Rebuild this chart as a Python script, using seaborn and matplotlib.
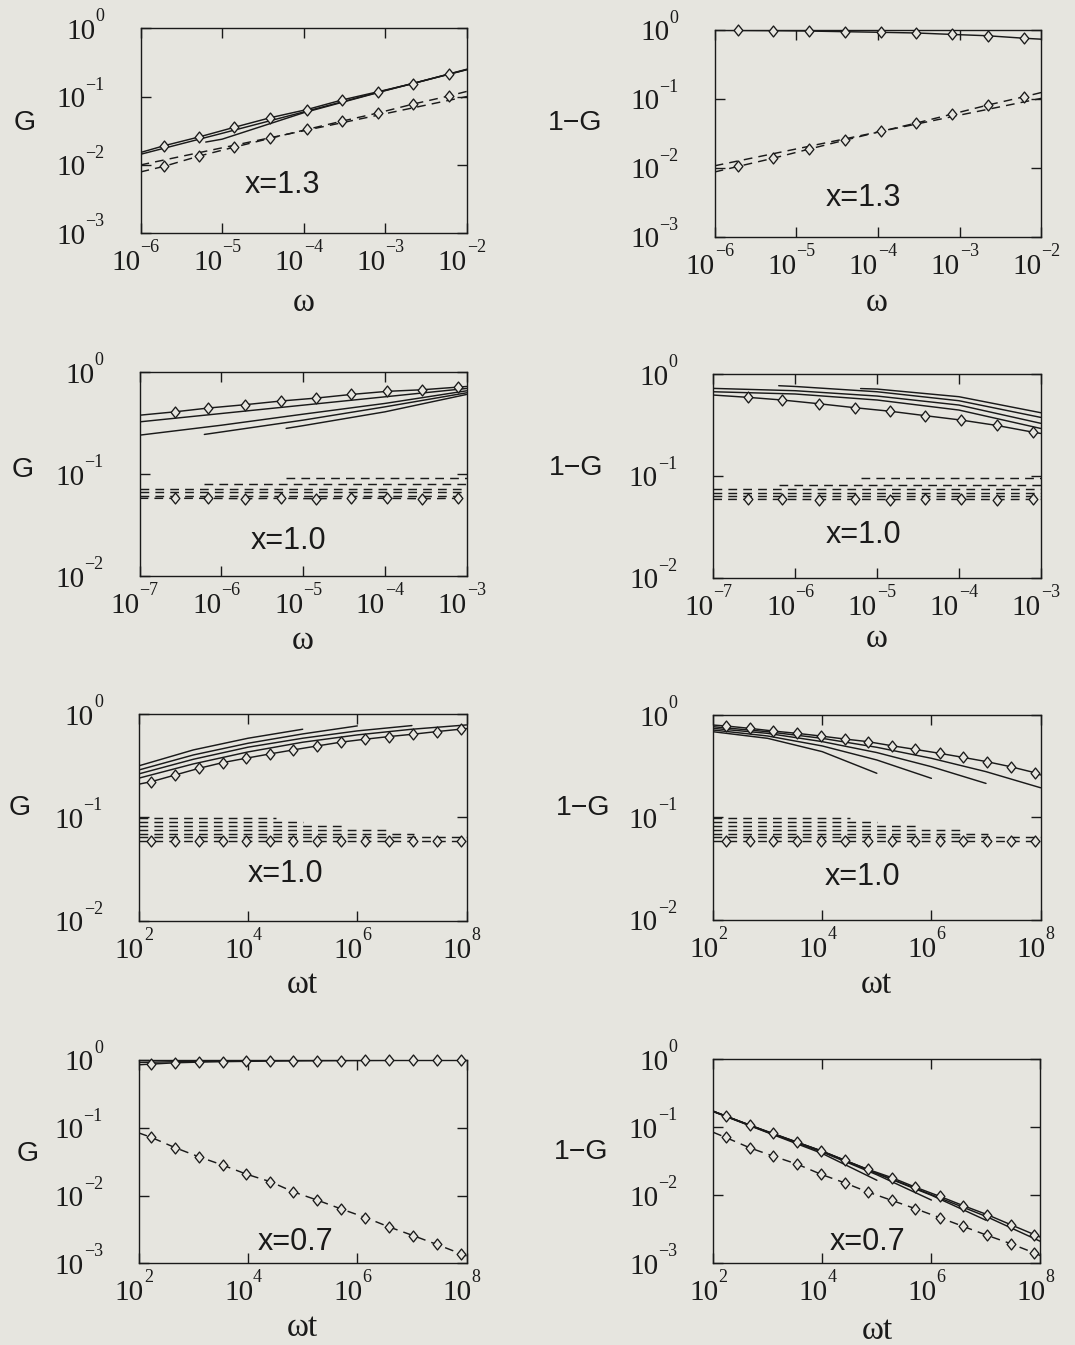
import matplotlib
matplotlib.use("Agg")
import matplotlib.pyplot as plt
from matplotlib.path import Path
from matplotlib.ticker import FixedLocator, NullFormatter, NullLocator
import seaborn as sns

# ---------------------------------------------------------------- data
# abscissae of the diamond markers
w_x13 = [1.95e-6, 5.25e-6, 1.41e-5, 3.89e-5, 1.10e-4, 2.95e-4, 8.13e-4, 2.19e-3, 6.03e-3]
w_x10 = [2.69e-7, 6.92e-7, 1.95e-6, 5.37e-6, 1.45e-5, 3.89e-5, 1.07e-4, 2.88e-4, 7.94e-4]
wt_x = [170, 468, 1260, 3470, 9330, 2.57e4, 6.76e4, 1.86e5, 5.01e5, 1.41e6,
        3.80e6, 1.05e7, 2.82e7, 7.76e7]

# decade grids for the unmarked curves
w_dec13 = [1e-6, 1e-5, 1e-4, 1e-3, 1e-2]
w_dec10 = [1e-7, 1e-6, 1e-5, 1e-4, 1e-3]
wt_dec = [1e2, 1e3, 1e4, 1e5, 1e6, 1e7, 1e8]

# x = 1.3, G(omega)
g13_solid = [0.0191, 0.0257, 0.0355, 0.0490, 0.0646, 0.0891, 0.1175, 0.155, 0.214]
g13_solid_ends = [0.0152, 0.251]
g13_solid_b = [0.0143, 0.0290, 0.0595, 0.123, 0.248]
g13_solid_c_w = [6.3e-6, 1e-5, 1e-4, 1e-3, 1e-2]
g13_solid_c = [0.0216, 0.0238, 0.0580, 0.122, 0.247]
g13_dash = [0.00955, 0.0135, 0.0182, 0.0245, 0.0331, 0.0437, 0.0575, 0.0776, 0.102]
g13_dash_ends = [0.0079, 0.119]
g13_dash_b = [0.0100, 0.0178, 0.0316, 0.0562, 0.100]

# x = 1.3, 1-G(omega)
q13_solid = [0.985, 0.978, 0.966, 0.945, 0.925, 0.905, 0.862, 0.825, 0.760]
q13_solid_ends = [0.99, 0.735]
q13_dash = [0.0105, 0.0138, 0.0186, 0.0251, 0.0339, 0.0447, 0.0603, 0.0813, 0.107]
q13_dash_ends = [0.0087, 0.124]
q13_dash_b = [0.0107, 0.0188, 0.0331, 0.0582, 0.102]

# x = 1.0, G(omega)
g10w_solid = [0.410, 0.447, 0.482, 0.524, 0.560, 0.608, 0.652, 0.676, 0.718]
g10w_solid_ends = [0.380, 0.728]
g10w_solid_b = [0.327, 0.395, 0.477, 0.576, 0.696]
g10w_solid_c = [0.242, 0.303, 0.389, 0.496, 0.660]
g10w_solid_d_w = [6.2e-7, 1e-6, 1e-5, 1e-4, 1e-3]
g10w_solid_d = [0.246, 0.260, 0.340, 0.459, 0.631]
g10w_solid_e_w = [6.2e-6, 1e-5, 1e-4, 1e-3]
g10w_solid_e = [0.282, 0.300, 0.410, 0.608]
g10w_dash = [0.058, 0.058, 0.0575, 0.058, 0.0575, 0.058, 0.058, 0.0575, 0.058]
g10w_dash_ends = [0.058, 0.058]
g10w_plateau = [0.0614, 0.0662, 0.0714, 0.0800, 0.0923]
g10w_plateau_from = [1e-7, 1e-7, 1e-7, 6.2e-7, 6.2e-6]

# x = 1.0, 1-G(omega)
q10w_solid = [0.590, 0.556, 0.511, 0.467, 0.431, 0.390, 0.353, 0.313, 0.269]
q10w_solid_ends = [0.622, 0.261]
q10w_solid_b = [0.670, 0.637, 0.556, 0.443, 0.292]
q10w_solid_c = [0.723, 0.686, 0.608, 0.496, 0.328]
q10w_solid_d_w = [6.3e-7, 1e-6, 1e-5, 1e-4, 1e-3]
q10w_solid_d = [0.768, 0.755, 0.670, 0.547, 0.375]
q10w_solid_e_w = [6.3e-6, 1e-5, 1e-4, 1e-3]
q10w_solid_e = [0.720, 0.712, 0.599, 0.417]
q10w_dash = [0.0587, 0.0587, 0.0585, 0.0587, 0.0585, 0.0587, 0.0587, 0.0585, 0.0587]
q10w_dash_ends = [0.0587, 0.0587]
q10w_plateau = [0.0633, 0.0683, 0.0736, 0.0813, 0.0944]
q10w_plateau_from = [1e-7, 1e-7, 1e-7, 6.3e-7, 6.3e-6]

# x = 1.0, G(omega t)
g10t_solid = [0.222, 0.258, 0.299, 0.340, 0.375, 0.413, 0.451, 0.493, 0.536, 0.573,
              0.607, 0.640, 0.678, 0.716]
g10t_solid_ends = [0.210, 0.726]
g10t_solid_b = [0.240, 0.330, 0.431, 0.535, 0.630, 0.715, 0.787]
g10t_solid_c = [0.264, 0.366, 0.479, 0.585, 0.689, 0.776]
g10t_solid_d = [0.288, 0.403, 0.523, 0.644, 0.770]
g10t_solid_e = [0.316, 0.451, 0.585, 0.715]
g10t_dash = [0.0592, 0.0592, 0.0592, 0.0592, 0.0592, 0.0592, 0.0592, 0.0592, 0.0592,
             0.0592, 0.0592, 0.0592, 0.0592, 0.0592]
g10t_dash_ends = [0.0592, 0.0592]
g10t_plateau = [0.0643, 0.0692, 0.0757, 0.0834, 0.0912, 0.0996]
g10t_plateau_to = [1e8, 1.1e7, 4.0e6, 5.9e5, 1.0e5, 3.2e4]

# x = 1.0, 1-G(omega t)
q10t_solid = [0.782, 0.741, 0.698, 0.662, 0.624, 0.583, 0.550, 0.502, 0.462, 0.423,
              0.386, 0.350, 0.313, 0.274]
q10t_solid_ends = [0.798, 0.260]
q10t_solid_b = [0.769, 0.687, 0.592, 0.484, 0.378, 0.280, 0.195]
q10t_solid_c = [0.741, 0.662, 0.550, 0.430, 0.313, 0.215]
q10t_solid_d = [0.714, 0.624, 0.499, 0.364, 0.241]
q10t_solid_e = [0.687, 0.592, 0.439, 0.270]
q10t_dash = [0.059, 0.059, 0.059, 0.059, 0.059, 0.059, 0.059, 0.059, 0.059, 0.059,
             0.059, 0.059, 0.059, 0.059]
q10t_dash_ends = [0.059, 0.059]
q10t_plateau = [0.064, 0.069, 0.0755, 0.083, 0.091, 0.0996]
q10t_plateau_to = [1e8, 1.1e7, 4.0e6, 5.9e5, 1.0e5, 3.2e4]

# x = 0.7, G(omega t)
g07_solid = [0.87, 0.91, 0.93, 0.945, 0.955, 0.965, 0.972, 0.978, 0.982, 0.986,
             0.989, 0.992, 0.994, 0.996]
g07_solid_ends = [0.85, 0.997]
g07_solid_b = [0.92, 0.955, 0.975, 0.985, 0.99, 0.993, 0.996]
g07_dash = [0.0721, 0.0507, 0.0373, 0.0281, 0.0207, 0.0160, 0.01135, 0.00855, 0.00637,
            0.00474, 0.00345, 0.00257, 0.00191, 0.00139]
g07_dash_ends = [0.084, 0.00129]

# x = 0.7, 1-G(omega t)
q07_solid = [0.145, 0.107, 0.0807, 0.0601, 0.0448, 0.0327, 0.0241, 0.0182, 0.0132,
             0.00966, 0.00706, 0.0052, 0.00371, 0.00264]
q07_solid_ends = [0.172, 0.00242]
q07_solid_b = [0.171, 0.085, 0.0445, 0.0210, 0.0102, 0.0049, 0.0021]
q07_solid_c = [0.171, 0.085, 0.0440, 0.0208, 0.0100, 0.0043]
q07_solid_d = [0.170, 0.084, 0.0430, 0.0200, 0.0085]
q07_solid_e = [0.169, 0.083, 0.0410, 0.0166]
q07_dash = [0.0705, 0.0497, 0.0375, 0.0286, 0.0204, 0.0152, 0.0112, 0.00843, 0.00637,
            0.0047, 0.0035, 0.00258, 0.00195, 0.00142]
q07_dash_ends = [0.084, 0.0013]

# axis ranges (decade exponents)
XEXP13 = [-6, -5, -4, -3, -2]
XEXP10 = [-7, -6, -5, -4, -3]
XEXPT = [2, 4, 6, 8]
YEXP3 = [0, -1, -2, -3]
YEXP2 = [0, -1, -2]

# ---------------------------------------------------------------- style
INK = "#1a1a1a"
BG = "#e6e5df"
DASH = (0, (6.0, 4.2))
LW = 1.05
SERIF = ["Liberation Serif", "DejaVu Serif"]
SANS = ["Liberation Sans", "DejaVu Sans"]
BASE_PT, SUP_PT = 21, 13
DIAMOND = Path([(0, 1), (0.8, 0), (0, -1), (-0.8, 0), (0, 1)],
               [Path.MOVETO, Path.LINETO, Path.LINETO, Path.LINETO, Path.CLOSEPOLY])

sns.set_theme(style="ticks")
plt.rcParams.update({
    "font.family": SANS,
    "axes.linewidth": 1.0,
    "axes.edgecolor": INK,
    "axes.facecolor": BG,
    "figure.facecolor": BG,
    "xtick.color": INK,
    "ytick.color": INK,
})


def marked(xlim, xm, ym, ends):
    return [xlim[0]] + list(xm) + [xlim[1]], [ends[0]] + list(ym) + [ends[1]]


def curve(kind, x, y, mx=None, my=None):
    return dict(kind=kind, x=list(x), y=list(y), mx=mx, my=my)


XL13 = (1e-6, 1e-2)
XL10 = (1e-7, 1e-3)
XLT = (1e2, 1e8)

p1 = [
    curve("solid", w_dec13, g13_solid_b),
    curve("solid", g13_solid_c_w, g13_solid_c),
    curve("dash", w_dec13, g13_dash_b),
    curve("solid", *marked(XL13, w_x13, g13_solid, g13_solid_ends), w_x13, g13_solid),
    curve("dash", *marked(XL13, w_x13, g13_dash, g13_dash_ends), w_x13, g13_dash),
]
p2 = [
    curve("dash", w_dec13, q13_dash_b),
    curve("solid", *marked(XL13, w_x13, q13_solid, q13_solid_ends), w_x13, q13_solid),
    curve("dash", *marked(XL13, w_x13, q13_dash, q13_dash_ends), w_x13, q13_dash),
]
p3 = [
    curve("solid", w_dec10, g10w_solid_b),
    curve("solid", w_dec10, g10w_solid_c),
    curve("solid", g10w_solid_d_w, g10w_solid_d),
    curve("solid", g10w_solid_e_w, g10w_solid_e),
    *[curve("dash", [s, XL10[1]], [lv, lv]) for lv, s in zip(g10w_plateau, g10w_plateau_from)],
    curve("solid", *marked(XL10, w_x10, g10w_solid, g10w_solid_ends), w_x10, g10w_solid),
    curve("dash", *marked(XL10, w_x10, g10w_dash, g10w_dash_ends), w_x10, g10w_dash),
]
p4 = [
    curve("solid", w_dec10, q10w_solid_b),
    curve("solid", w_dec10, q10w_solid_c),
    curve("solid", q10w_solid_d_w, q10w_solid_d),
    curve("solid", q10w_solid_e_w, q10w_solid_e),
    *[curve("dash", [s, XL10[1]], [lv, lv]) for lv, s in zip(q10w_plateau, q10w_plateau_from)],
    curve("solid", *marked(XL10, w_x10, q10w_solid, q10w_solid_ends), w_x10, q10w_solid),
    curve("dash", *marked(XL10, w_x10, q10w_dash, q10w_dash_ends), w_x10, q10w_dash),
]
p5 = [
    curve("solid", wt_dec, g10t_solid_b),
    curve("solid", wt_dec[:6], g10t_solid_c),
    curve("solid", wt_dec[:5], g10t_solid_d),
    curve("solid", wt_dec[:4], g10t_solid_e),
    *[curve("dash", [XLT[0], e], [lv, lv]) for lv, e in zip(g10t_plateau, g10t_plateau_to)],
    curve("solid", *marked(XLT, wt_x, g10t_solid, g10t_solid_ends), wt_x, g10t_solid),
    curve("dash", *marked(XLT, wt_x, g10t_dash, g10t_dash_ends), wt_x, g10t_dash),
]
p6 = [
    curve("solid", wt_dec, q10t_solid_b),
    curve("solid", wt_dec[:6], q10t_solid_c),
    curve("solid", wt_dec[:5], q10t_solid_d),
    curve("solid", wt_dec[:4], q10t_solid_e),
    *[curve("dash", [XLT[0], e], [lv, lv]) for lv, e in zip(q10t_plateau, q10t_plateau_to)],
    curve("solid", *marked(XLT, wt_x, q10t_solid, q10t_solid_ends), wt_x, q10t_solid),
    curve("dash", *marked(XLT, wt_x, q10t_dash, q10t_dash_ends), wt_x, q10t_dash),
]
p7 = [
    curve("solid", wt_dec, g07_solid_b),
    curve("solid", *marked(XLT, wt_x, g07_solid, g07_solid_ends), wt_x, g07_solid),
    curve("dash", *marked(XLT, wt_x, g07_dash, g07_dash_ends), wt_x, g07_dash),
]
p8 = [
    curve("solid", wt_dec, q07_solid_b),
    curve("solid", wt_dec[:6], q07_solid_c),
    curve("solid", wt_dec[:5], q07_solid_d),
    curve("solid", wt_dec[:4], q07_solid_e),
    curve("solid", *marked(XLT, wt_x, q07_solid, q07_solid_ends), wt_x, q07_solid),
    curve("dash", *marked(XLT, wt_x, q07_dash, q07_dash_ends), wt_x, q07_dash),
]

panels = [
    dict(pos=(0.1307, 0.8265, 0.3037, 0.1526), xexp=XEXP13, yexp=YEXP3, ylabel="G",
         ylab=(-0.356, 0.54), xlabel="ω", xlab=(0.5, -0.337), tag="x=1.3", tagxy=(0.436, 0.235), curves=p1),
    dict(pos=(0.6648, 0.8240, 0.3040, 0.1537), xexp=XEXP13, yexp=YEXP3, ylabel="1−G",
         ylab=(-0.426, 0.55), xlabel="ω", xlab=(0.495, -0.319), tag="x=1.3", tagxy=(0.455, 0.185), curves=p2),
    dict(pos=(0.1298, 0.5717, 0.3043, 0.1514), xexp=XEXP10, yexp=YEXP2, ylabel="G",
         ylab=(-0.356, 0.52), xlabel="ω", xlab=(0.5, -0.32), tag="x=1.0", tagxy=(0.456, 0.17), curves=p3),
    dict(pos=(0.6635, 0.5705, 0.3047, 0.1514), xexp=XEXP10, yexp=YEXP2, ylabel="1−G",
         ylab=(-0.419, 0.54), xlabel="ω", xlab=(0.5, -0.30), tag="x=1.0", tagxy=(0.458, 0.21), curves=p4),
    dict(pos=(0.1291, 0.3155, 0.3049, 0.1535), xexp=XEXPT, yexp=YEXP2, ylabel="G",
         ylab=(-0.363, 0.546), xlabel="ωt", xlab=(0.5, -0.31), tag="x=1.0", tagxy=(0.448, 0.225), curves=p5),
    dict(pos=(0.6633, 0.3160, 0.3047, 0.1524), xexp=XEXPT, yexp=YEXP2, ylabel="1−G",
         ylab=(-0.397, 0.546), xlabel="ωt", xlab=(0.5, -0.317), tag="x=1.0", tagxy=(0.456, 0.21), curves=p6),
    dict(pos=(0.1291, 0.0607, 0.3049, 0.1512), xexp=XEXPT, yexp=YEXP3, ylabel="G",
         ylab=(-0.34, 0.54), xlabel="ωt", xlab=(0.5, -0.315), tag="x=0.7", tagxy=(0.478, 0.106), curves=p7),
    dict(pos=(0.6635, 0.0607, 0.3044, 0.1519), xexp=XEXPT, yexp=YEXP3, ylabel="1−G",
         ylab=(-0.403, 0.545), xlabel="ωt", xlab=(0.5, -0.33), tag="x=0.7", tagxy=(0.472, 0.105), curves=p8),
]

fig = plt.figure(figsize=(10.75, 13.45), dpi=100)
renderer = fig.canvas.get_renderer()
PT = 72.0 / fig.dpi  # points per pixel


def width_px(s, size):
    t = fig.text(0, 0, s, fontsize=size, family=SERIF)
    w = t.get_window_extent(renderer).width
    t.remove()
    return w


def power_label(ax, value, e, axis):
    """Write 10^e as a base plus a raised, smaller exponent next to a tick."""
    base, sup = "10", str(e).replace("-", "\u2212")
    wb, ws = width_px(base, BASE_PT), width_px(sup, SUP_PT)
    common = dict(textcoords="offset points", va="baseline", color=INK,
                  family=SERIF, annotation_clip=False)
    if axis == "x":
        xy, coords = (value, 0), ("data", "axes fraction")
        left = -5 - (wb + ws) / 2
        ax.annotate(base, xy=xy, xycoords=coords, xytext=(left * PT, -37 * PT),
                    ha="left", fontsize=BASE_PT, **common)
        ax.annotate(sup, xy=xy, xycoords=coords, xytext=((left + wb) * PT, -19 * PT),
                    ha="left", fontsize=SUP_PT, **common)
    else:
        xy, coords = (0, value), ("axes fraction", "data")
        ax.annotate(sup, xy=xy, xycoords=coords, xytext=(-36 * PT, 7 * PT),
                    ha="right", fontsize=SUP_PT, **common)
        ax.annotate(base, xy=xy, xycoords=coords, xytext=((-36 - ws) * PT, -10.5 * PT),
                    ha="right", fontsize=BASE_PT, **common)


for spec in panels:
    ax = fig.add_axes(spec["pos"])
    ax.set_xscale("log")
    ax.set_yscale("log")
    xt = [10.0 ** e for e in spec["xexp"]]
    yt = [10.0 ** e for e in spec["yexp"]]
    ax.set_xlim(min(xt), max(xt))
    ax.set_ylim(min(yt), max(yt))

    for c in spec["curves"]:
        sns.lineplot(x=c["x"], y=c["y"], ax=ax, color=INK, lw=LW,
                     linestyle=DASH if c["kind"] == "dash" else "-",
                     sort=False, estimator=None, legend=False, zorder=2)
    for c in spec["curves"]:
        if c["mx"] is not None:
            sns.scatterplot(x=c["mx"], y=c["my"], ax=ax, marker=DIAMOND, s=62,
                            facecolor=BG, edgecolor=INK, linewidth=0.95,
                            zorder=4, clip_on=False, legend=False)

    ax.xaxis.set_major_locator(FixedLocator(xt))
    ax.yaxis.set_major_locator(FixedLocator(yt))
    ax.xaxis.set_major_formatter(NullFormatter())
    ax.yaxis.set_major_formatter(NullFormatter())
    ax.xaxis.set_minor_locator(NullLocator())
    ax.yaxis.set_minor_locator(NullLocator())
    ax.tick_params(which="major", direction="in", length=7.5, width=1.0,
                   top=True, right=True, colors=INK)
    for side in ax.spines.values():
        side.set_visible(True)
        side.set_color(INK)

    for v, e in zip(xt, spec["xexp"]):
        power_label(ax, v, e, "x")
    for v, e in zip(yt, spec["yexp"]):
        power_label(ax, v, e, "y")

    ax.text(*spec["ylab"], spec["ylabel"], transform=ax.transAxes, ha="center",
            va="center", fontsize=20.5, family=SANS, color=INK)
    ax.text(*spec["xlab"], spec["xlabel"], transform=ax.transAxes, ha="center",
            va="center", fontsize=24, family=SERIF, color=INK)
    ax.text(*spec["tagxy"], spec["tag"], transform=ax.transAxes, ha="center",
            va="center", fontsize=22, family=SANS, color=INK)
    ax.set_xlabel("")
    ax.set_ylabel("")

fig.savefig("out.png", dpi=100, facecolor=BG)
